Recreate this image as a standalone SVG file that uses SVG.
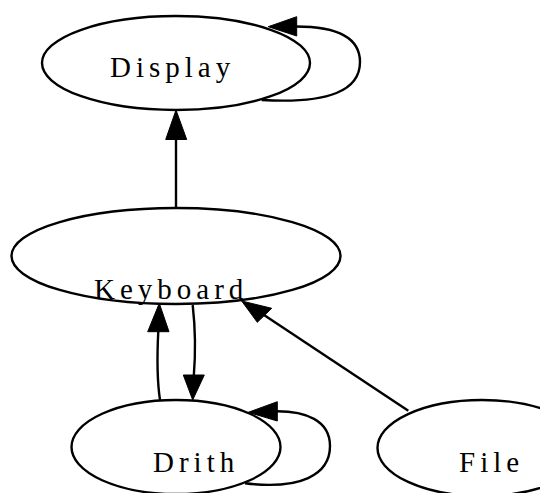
<svg xmlns="http://www.w3.org/2000/svg" width="540" height="493" viewBox="0 0 540 493">
  <style>
    .node ellipse { fill: none; stroke: #000; stroke-width: 2.4; }
    .node text { font-family: "Liberation Serif", "Times New Roman", serif; font-size: 29px; letter-spacing: 5px; fill: #000; }
    .edge path, .edge line { fill: none; stroke: #000; stroke-width: 2.4; }
    .edge polygon { fill: #000; stroke: #000; stroke-width: 1; stroke-linejoin: miter; }
  </style>
  <rect width="540" height="493" fill="#fff"/>

  <g id="edges">
    <!-- Keyboard -> Display -->
    <g class="edge" id="e-keyboard-display">
      <line x1="176" y1="208" x2="176" y2="139"/>
      <polygon points="176,110 165.7,139.5 186.7,139.5"/>
    </g>
    <!-- Display -> Display -->
    <g class="edge" id="e-display-display">
      <path d="M261.7,100 C330,104 360,90 360,62 C360,34 330,26.5 296,26.5"/>
      <polygon points="268.3,26.7 296.7,16.7 296.7,36"/>
    </g>
    <!-- Drith -> Keyboard -->
    <g class="edge" id="e-drith-keyboard">
      <path d="M160,400 C157,380 157.2,352 158.3,331"/>
      <polygon points="159.3,303.3 147.7,331.7 169,331.7"/>
    </g>
    <!-- Keyboard -> Drith -->
    <g class="edge" id="e-keyboard-drith">
      <path d="M192.7,305 C195.5,330 195.5,355 193.8,376"/>
      <polygon points="192.7,400 183.3,375 204.3,375"/>
    </g>
    <!-- File -> Keyboard -->
    <g class="edge" id="e-file-keyboard">
      <line x1="408.3" y1="410.7" x2="264" y2="315"/>
      <polygon points="241.7,301 257.3,322.3 271.7,308.3"/>
    </g>
    <!-- Drith -> Drith -->
    <g class="edge" id="e-drith-drith">
      <path d="M245,483.3 C300,490 330,475 330,446 C330,420 305,411.3 277,411.3"/>
      <polygon points="248.3,412.3 277.3,401.7 277.3,421"/>
    </g>
  </g>

  <g class="node" id="display">
    <ellipse cx="176" cy="63" rx="134" ry="47"/>
    <text x="110" y="77">Display</text>
  </g>
  <g class="node" id="keyboard">
    <ellipse cx="176" cy="256" rx="164.5" ry="48"/>
    <text x="94" y="299">Keyboard</text>
  </g>
  <g class="node" id="drith">
    <ellipse cx="176" cy="447" rx="104.5" ry="47"/>
    <text x="153" y="471.5">Drith</text>
  </g>
  <g class="node" id="file">
    <ellipse cx="482" cy="448" rx="104.5" ry="48"/>
    <text x="459" y="471.5">File</text>
  </g>
</svg>
